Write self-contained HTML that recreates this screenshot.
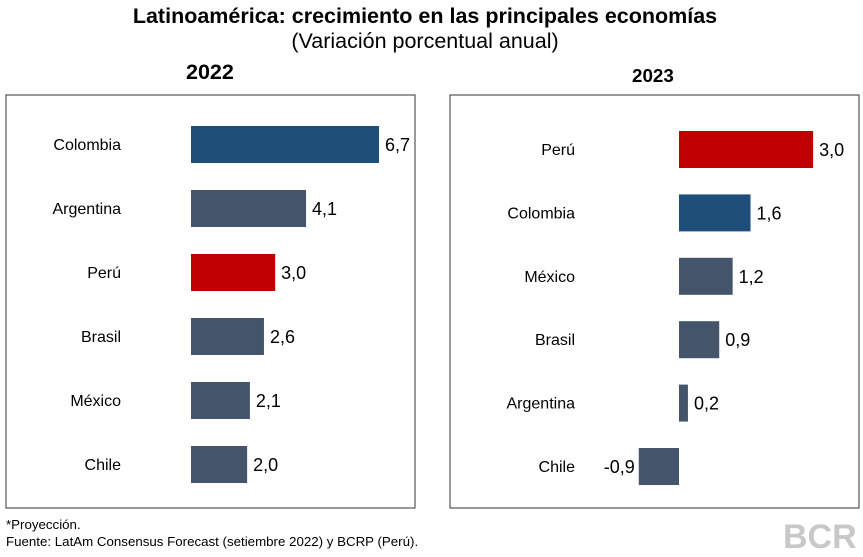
<!DOCTYPE html>
<html><head><meta charset="utf-8"><style>
body{margin:0;width:863px;height:556px;background:#fff;font-family:"Liberation Sans",Arial,sans-serif;position:relative;overflow:hidden}
.t{position:absolute;white-space:nowrap}
</style></head><body>
<div class="t" style="left:0;width:850px;text-align:center;top:4px;font-size:21.5px;font-weight:bold">Latinoamérica: crecimiento en las principales economías</div>
<div class="t" style="left:0;width:850px;text-align:center;top:29px;font-size:21.5px">(Variación porcentual anual)</div>
<div class="t" style="left:186px;top:60px;font-size:21.5px;font-weight:bold">2022</div>
<div class="t" style="left:632px;top:65px;font-size:18.8px;font-weight:bold">2023</div>
<svg id="c" width="863" height="556" style="position:absolute;left:0;top:0"></svg>
<div class="t" style="left:6px;top:517px;font-size:13.3px">*Proyección.</div>
<div class="t" style="left:6px;top:534px;font-size:13.3px">Fuente: LatAm Consensus Forecast (setiembre 2022) y BCRP (Perú).</div>
<div class="t" style="left:783px;top:518px;font-size:34px;font-weight:bold;color:#c8c8c8">BCR</div>
<script>
const cats2022=["Colombia","Argentina","Perú","Brasil","México","Chile"];
const vals2022=[6.7,4.1,3.0,2.6,2.1,2.0];
const cats2023=["Perú","Colombia","México","Brasil","Argentina","Chile"];
const vals2023=[3.0,1.6,1.2,0.9,0.2,-0.9];
const NS="http://www.w3.org/2000/svg";
const svg=document.getElementById('c');
function mk(t,a){const e=document.createElementNS(NS,t);for(const k in a)e.setAttribute(k,a[k]);svg.appendChild(e);return e;}
function color(c){return c==="Perú"?"#c00000":c==="Colombia"?"#1f4e79":"#44546a";}
function panel(px,cats,vals,zero,scale,y0,step,labelX,id){
  const box=mk('rect',{x:px,y:95,width:409,height:413,fill:'none',stroke:'#333','stroke-width':1});
  
  
  cats.forEach((c,i)=>{
    const v=vals[i];const y=y0+i*step;
    const x1=zero+Math.min(0,v)*scale, w=Math.abs(v)*scale;
    const r=mk('rect',{x:x1,y:y,width:w,height:37,fill:color(c)});
    
    
    const l=mk('text',{x:labelX,y:y+24,'text-anchor':'end','font-size':16,'font-family':'Liberation Sans, sans-serif'});
    l.textContent=c;
    
    
    const vt=mk('text',{x:v>=0?zero+v*scale+6:x1-4,y:y+25,'text-anchor':v>=0?'start':'end','font-size':18,'font-family':'Liberation Sans, sans-serif'});
    vt.textContent=v.toFixed(1).replace('.',',');
    
    
  });
}
panel(6,cats2022,vals2022,191,28.06,126,64,121,'2022');
panel(450,cats2023,vals2023,679,44.7,131,63.4,575,'2023');
</script>
</body></html>
